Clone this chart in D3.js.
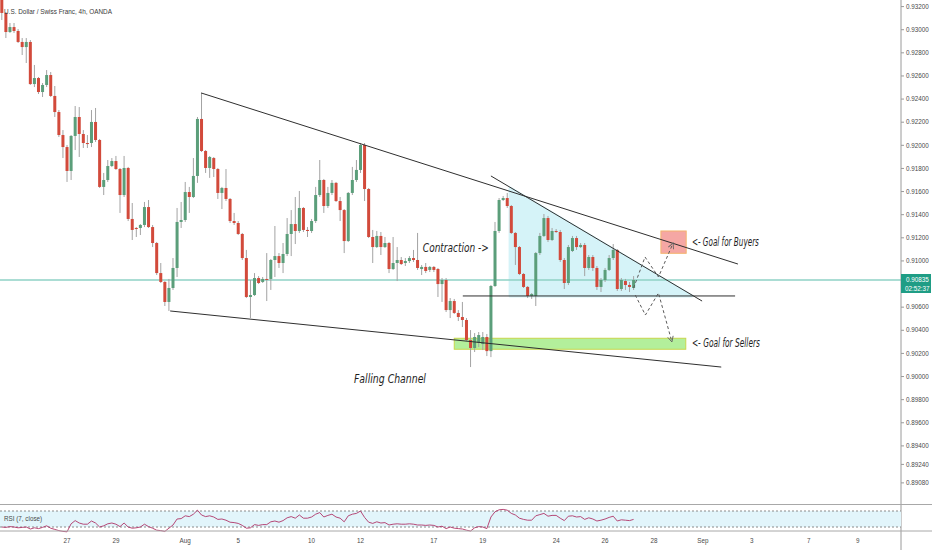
<!DOCTYPE html>
<html><head><meta charset="utf-8">
<script src="https://cdn.jsdelivr.net/npm/d3@7"></script>
<style>body{margin:0;background:#fff}svg{display:block}</style>
</head><body><svg id="c" width="932" height="550"></svg>
<script>
// ---- data (USD/CHF 4h, OANDA) ----
const opens=[0.93283,0.93145,0.92980,0.93023,0.92989,0.92894,0.92850,0.92894,0.92530,0.92582,
0.92461,0.92522,0.92608,0.92427,0.92288,0.92089,0.91985,0.91778,0.92081,0.92245,
0.92098,0.92020,0.92020,0.92202,0.92046,0.91640,0.91700,0.91821,0.91864,0.91795,
0.91570,0.91804,0.91363,0.91285,0.91285,0.91311,0.91466,0.91293,0.91155,0.90895,
0.90818,0.90645,0.90766,0.90939,0.91337,0.91354,0.91596,0.91553,0.91735,0.92228,
0.91951,0.91804,0.91890,0.91795,0.91588,0.91631,0.91536,0.91345,0.91328,0.91233,
0.91025,0.90688,0.90705,0.90852,0.90818,0.90844,0.90844,0.91008,0.91042,0.90982,
0.91060,0.91233,0.91319,0.91259,0.91458,0.91268,0.91259,0.91345,0.91570,0.91700,
0.91475,0.91588,0.91675,0.91518,0.91440,0.91172,0.91588,0.91700,0.91787,0.92003,
0.91622,0.91207,0.91120,0.91216,0.91120,0.91155,0.90930,0.90982,0.91008,0.90982,
0.90999,0.91025,0.91008,0.90930,0.90948,0.90922,0.90948,0.90930,0.90800,0.90835,
0.90575,0.90653,0.90550,0.90515,0.90489,0.90316,0.90247,0.90290,0.90281,0.90342,
0.90220,0.90783,0.91259,0.91527,0.91544,0.91475,0.91242,0.91120,0.90887,0.90775,
0.90697,0.90697,0.91068,0.91216,0.91371,0.91181,0.91259,0.91250,0.91008,0.90809,
0.91086,0.91198,0.91120,0.91138,0.90939,0.91034,0.90939,0.90775,0.90835,0.90922,
0.91025,0.91095,0.90757,0.90826,0.90792,0.90766];
const highs=[0.93326,0.93153,0.93058,0.93058,0.93006,0.92928,0.92928,0.92911,0.92695,0.92591,
0.92539,0.92651,0.92634,0.92513,0.92305,0.92132,0.92003,0.92089,0.92340,0.92331,
0.92132,0.92089,0.92305,0.92323,0.92055,0.91761,0.91873,0.91890,0.91908,0.91804,
0.91908,0.91813,0.91501,0.91293,0.91319,0.91510,0.91527,0.91311,0.91164,0.90982,
0.90826,0.90844,0.91025,0.91458,0.91510,0.91683,0.91640,0.91890,0.92245,0.92453,
0.91959,0.91908,0.91899,0.91804,0.91640,0.91795,0.91544,0.91415,0.91345,0.91242,
0.91095,0.90835,0.90895,0.90869,0.90861,0.91068,0.91017,0.91302,0.91068,0.91155,
0.91371,0.91440,0.91553,0.91605,0.91466,0.91293,0.91363,0.91640,0.91873,0.91709,
0.91640,0.91700,0.91683,0.91553,0.91449,0.91596,0.91813,0.91873,0.92020,0.92020,
0.91631,0.91268,0.91259,0.91250,0.91207,0.91164,0.91207,0.91120,0.91034,0.91025,
0.91042,0.91095,0.91242,0.90965,0.90982,0.90956,0.90956,0.90939,0.90852,0.90852,
0.90679,0.90671,0.90575,0.90645,0.90506,0.90402,0.90376,0.90385,0.90385,0.90368,
0.90792,0.91337,0.91544,0.91562,0.91588,0.91484,0.91250,0.91129,0.90895,0.90783,
0.90722,0.91077,0.91242,0.91406,0.91389,0.91285,0.91276,0.91268,0.91025,0.91138,
0.91216,0.91216,0.91155,0.91155,0.91051,0.91051,0.90956,0.90852,0.90939,0.91051,
0.91146,0.91103,0.90852,0.90844,0.90818,0.90869];
const lows=[0.93084,0.92928,0.92972,0.92972,0.92885,0.92781,0.92712,0.92522,0.92504,0.92444,
0.92418,0.92504,0.92418,0.92245,0.92072,0.91890,0.91683,0.91700,0.91959,0.91899,
0.91977,0.91977,0.91985,0.92029,0.91631,0.91570,0.91683,0.91812,0.91787,0.91415,
0.91553,0.91345,0.91181,0.91207,0.91224,0.91293,0.91285,0.91120,0.90878,0.90809,
0.90610,0.90567,0.90749,0.90861,0.91285,0.91337,0.91415,0.91544,0.91675,0.91942,
0.91761,0.91718,0.91726,0.91536,0.91449,0.91518,0.91328,0.91311,0.91224,0.91008,
0.90679,0.90506,0.90697,0.90800,0.90809,0.90653,0.90749,0.90861,0.90939,0.90895,
0.91042,0.91042,0.91146,0.91242,0.91250,0.91207,0.91242,0.91328,0.91553,0.91415,
0.91458,0.91570,0.91510,0.91345,0.91068,0.91164,0.91570,0.91683,0.91761,0.91518,
0.91198,0.90982,0.91112,0.91051,0.91112,0.90895,0.90922,0.90826,0.90965,0.90956,
0.90982,0.90991,0.90922,0.90878,0.90895,0.90904,0.90904,0.90688,0.90645,0.90558,
0.90506,0.90541,0.90480,0.90428,0.90307,0.90082,0.90212,0.90255,0.90229,0.90177,
0.90168,0.90775,0.91242,0.91518,0.91458,0.91233,0.90965,0.90878,0.90766,0.90679,
0.90671,0.90610,0.91051,0.91207,0.91164,0.91172,0.91242,0.90991,0.90757,0.90792,
0.91077,0.91095,0.91112,0.90869,0.90922,0.90913,0.90749,0.90731,0.90818,0.90913,
0.91008,0.90740,0.90740,0.90749,0.90731,0.90749];
const closes=[0.93145,0.92980,0.93023,0.92989,0.92894,0.92850,0.92894,0.92530,0.92582,0.92461,
0.92522,0.92608,0.92427,0.92288,0.92089,0.91985,0.91778,0.92081,0.92245,0.92098,
0.92020,0.92011,0.92202,0.92046,0.91640,0.91700,0.91821,0.91864,0.91795,0.91570,
0.91804,0.91363,0.91268,0.91276,0.91311,0.91466,0.91293,0.91155,0.90895,0.90818,
0.90645,0.90766,0.90939,0.91337,0.91354,0.91596,0.91553,0.91735,0.92228,0.91951,
0.91804,0.91899,0.91795,0.91588,0.91631,0.91536,0.91345,0.91328,0.91233,0.91025,
0.90688,0.90705,0.90852,0.90809,0.90844,0.90835,0.91008,0.91042,0.90982,0.91060,
0.91233,0.91319,0.91259,0.91458,0.91268,0.91259,0.91345,0.91570,0.91700,0.91475,
0.91588,0.91675,0.91518,0.91440,0.91172,0.91588,0.91700,0.91787,0.92003,0.91622,
0.91207,0.91120,0.91216,0.91120,0.91155,0.90930,0.90982,0.91008,0.90973,0.90999,
0.91025,0.91008,0.90939,0.90948,0.90913,0.90948,0.90922,0.90800,0.90835,0.90575,
0.90653,0.90550,0.90515,0.90489,0.90316,0.90247,0.90342,0.90359,0.90342,0.90220,
0.90783,0.91259,0.91527,0.91544,0.91475,0.91242,0.91120,0.90887,0.90775,0.90697,
0.90714,0.91068,0.91216,0.91371,0.91181,0.91259,0.91250,0.91008,0.90809,0.91120,
0.91198,0.91120,0.91138,0.90939,0.91034,0.90939,0.90775,0.90835,0.90922,0.91025,
0.91095,0.90757,0.90835,0.90792,0.90775,0.90835];
const rsi7=[30,29,31,30,28,29,30,25,28,26,29,33,27,24,21,19,18,38,46,40,
37,37,45,40,30,33,38,40,37,31,40,30,27,28,30,37,31,27,22,21,
19,27,35,50,51,58,56,62,72,60,56,58,55,49,50,47,42,41,39,34,
27,28,36,34,36,36,43,45,42,46,53,56,52,60,52,52,55,62,66,55,
59,62,55,52,43,58,62,64,70,54,42,39,43,40,41,35,37,38,37,37,
38,37,35,35,34,35,34,30,32,26,30,27,26,25,22,20,28,31,30,26,
55,68,73,74,72,64,60,52,49,47,47,58,61,64,57,59,59,52,46,57,
58,55,56,49,53,50,45,47,50,54,57,45,48,47,46,49];
const priceTicks=[0.932,0.930,0.928,0.926,0.924,0.922,0.920,0.918,0.916,0.914,0.912,0.910,
0.906,0.904,0.902,0.900,0.898,0.896,0.894,0.8924,0.8908];
const timeLabels=["27","29","Aug","5","10","12","17","19","24","26","28","Sep","3","7","9"];
const timeIdx=[16,28,45,58,76,88,106,118,136,148,160,172,184,198,210];
const lastPrice=0.90835, countdown="02:52:37";
const title="U.S. Dollar / Swiss Franc, 4h, OANDA";
// drawings, in (bar index, price)
const channelTop=[[48.9,0.92453],[180.6,0.90973]];
const channelBottom=[[41.3,0.90567],[176.5,0.90082]];
const contractionTop=[[120.0,0.91735],[171.8,0.90653]];
const contractionBase=[[113.1,0.90697],[179.9,0.90697]];
const contractionFill=[[124.7,0.91630],[169.3,0.90697],[124.7,0.90697]];
const buyersGoal=[161.7,0.91259,167.9,0.91066];
const sellersGoal=[111.0,0.90331,167.8,0.90236];
const bullPath=[[155.0,0.90766],[157.8,0.91034],[161.1,0.90861],[164.7,0.91155]];
const bearPath=[[155.4,0.90705],[157.9,0.90532],[161.1,0.90723],[164.4,0.90299]];
const notes=[
 {i:103.3,p:0.91077,t:"Contraction ->",w:66},
 {i:86.4,p:0.89944,t:"Falling Channel",w:72},
 {i:169.3,p:0.91129,t:"<- Goal for Buyers",w:67},
 {i:169.3,p:0.90255,t:"<- Goal for Sellers",w:68}];

// ---- layout ----
const AX=901, MB=503;
const svg=d3.select("#c");
const x=d3.scaleLinear().domain([0,155]).range([1.8,633.6]);
const y=d3.scaleLinear().domain([0.93257,0.90662]).range([0,300]);
const ry=d3.scaleLinear().domain([30,70]).range([527,511]);
const UP="#5b9e7a", DN="#d24a3b";

svg.append("defs").html(`<clipPath id="mc"><rect x="0" y="0" width="${AX}" height="${MB}"/></clipPath>
<marker id="ah" viewBox="0 0 10 10" refX="9" refY="5" markerWidth="7" markerHeight="7" orient="auto-start-reverse">
<path d="M1,1 L9,5 L1,9" fill="none" stroke="#666" stroke-width="1.3"/></marker>`);
const g=svg.append("g").attr("clip-path","url(#mc)");

// contraction fill
g.append("path").attr("d",d3.line().x(d=>x(d[0])).y(d=>y(d[1])).curve(d3.curveLinearClosed)(contractionFill))
 .attr("fill","#d5f3f8").attr("stroke","#d5f3f8").attr("stroke-width",3).attr("stroke-linejoin","round");
// goal boxes
function box(b,fill,stroke){g.append("rect").attr("x",x(b[0])).attr("y",y(b[1])).attr("width",x(b[2])-x(b[0]))
 .attr("height",y(b[3])-y(b[1])).attr("fill",fill).attr("stroke",stroke).attr("stroke-width",1);}
box(sellersGoal,"#b3ef9b","#c8d64c");
box(buyersGoal,"#f5a7a4","#f3b36c");
// price line
g.append("line").attr("x1",0).attr("x2",AX).attr("y1",y(lastPrice)).attr("y2",y(lastPrice))
 .attr("stroke","#8fd2c6").attr("stroke-width",1.5);
// title
svg.append("text").attr("x",4).attr("y",14).attr("font-family","Liberation Sans, Arial, sans-serif")
 .attr("font-size",8).attr("fill","#3a3a3a").attr("textLength",108).attr("lengthAdjust","spacingAndGlyphs").text(title);
// candles
const idx=d3.range(opens.length);
g.selectAll("line.w").data(idx).join("line").attr("class","w")
 .attr("x1",i=>x(i)).attr("x2",i=>x(i)).attr("y1",i=>y(highs[i])).attr("y2",i=>y(lows[i]))
 .attr("stroke","#a3a3a3").attr("stroke-width",1);
g.selectAll("rect.b").data(idx).join("rect").attr("class","b")
 .attr("x",i=>x(i)-1.5).attr("width",3)
 .attr("y",i=>Math.min(y(opens[i]),y(closes[i])))
 .attr("height",i=>Math.max(1,Math.abs(y(opens[i])-y(closes[i]))))
 .attr("fill",i=>closes[i]>=opens[i]?UP:DN);
// lines
const ln=d3.line().x(d=>x(d[0])).y(d=>y(d[1]));
[channelTop,channelBottom,contractionTop,contractionBase].forEach(s=>
 g.append("path").attr("d",ln(s)).attr("fill","none").attr("stroke","#2f2f2f").attr("stroke-width",1));
[bullPath,bearPath].forEach(s=>
 g.append("path").attr("d",ln(s)).attr("fill","none").attr("stroke","#5a5a5a").attr("stroke-width",1)
  .attr("stroke-dasharray","3,2.5").attr("marker-end","url(#ah)"));
// notes
notes.forEach(n=>g.append("text").attr("x",x(n.i)).attr("y",y(n.p)).attr("font-family","Liberation Sans Narrow, DejaVu Sans Condensed, sans-serif")
 .attr("font-style","italic").attr("font-size",13).attr("fill","#1e1e1e").attr("textLength",n.w).attr("lengthAdjust","spacingAndGlyphs").text(n.t));

// price axis
svg.append("line").attr("x1",AX).attr("x2",AX).attr("y1",0).attr("y2",550).attr("stroke","#9a9a9a").attr("stroke-width",1);
const pa=svg.append("g");
priceTicks.forEach(p=>{
 pa.append("line").attr("x1",AX).attr("x2",AX+3).attr("y1",y(p)).attr("y2",y(p)).attr("stroke","#9a9a9a");
 pa.append("text").attr("x",AX+5).attr("y",y(p)).attr("dy","0.35em").attr("font-family","Liberation Sans, Arial, sans-serif")
  .attr("font-size",6.3).attr("fill","#4a4a4a").text(p.toFixed(5));
});
// price tag
const ty=y(lastPrice);
svg.append("rect").attr("x",AX).attr("y",ty-6).attr("width",931-AX).attr("height",19).attr("fill","#1f9d85");
svg.append("text").attr("x",AX+5).attr("y",ty).attr("dy","0.35em").attr("font-family","Liberation Sans, Arial, sans-serif")
 .attr("font-size",6.3).attr("fill","#fff").text(lastPrice.toFixed(5));
svg.append("text").attr("x",AX+4).attr("y",ty+9).attr("dy","0.35em").attr("font-family","Liberation Sans, Arial, sans-serif")
 .attr("font-size",6.3).attr("fill","#fff").text(countdown);

// RSI pane
svg.append("line").attr("x1",0).attr("x2",932).attr("y1",MB+1.5).attr("y2",MB+1.5).attr("stroke","#a8a8a8");
svg.append("rect").attr("x",0).attr("y",ry(70)).attr("width",AX).attr("height",ry(30)-ry(70)).attr("fill","#e2f5fb");
[70,30].forEach(v=>svg.append("line").attr("x1",0).attr("x2",AX).attr("y1",ry(v)).attr("y2",ry(v))
 .attr("stroke","#8a8a8a").attr("stroke-dasharray","2,2"));
svg.append("path").attr("d",d3.line().x((d,i)=>x(i)).y(d=>ry(d))(rsi7)).attr("fill","none").attr("stroke","#b03468").attr("stroke-width",0.9);
svg.append("text").attr("x",4).attr("y",ry(50)).attr("dy","0.35em").attr("font-family","Liberation Sans, Arial, sans-serif")
 .attr("font-size",6.3).attr("fill","#4a4a4a").text("RSI (7, close)");
svg.append("line").attr("x1",0).attr("x2",932).attr("y1",531).attr("y2",531).attr("stroke","#a8a8a8");
// time axis
timeLabels.forEach((t,k)=>svg.append("text").attr("x",x(timeIdx[k])).attr("y",541).attr("dy","0.35em")
 .attr("text-anchor","middle").attr("font-family","Liberation Sans, Arial, sans-serif").attr("font-size",6.3).attr("fill","#4a4a4a").text(t));
</script></body></html>
